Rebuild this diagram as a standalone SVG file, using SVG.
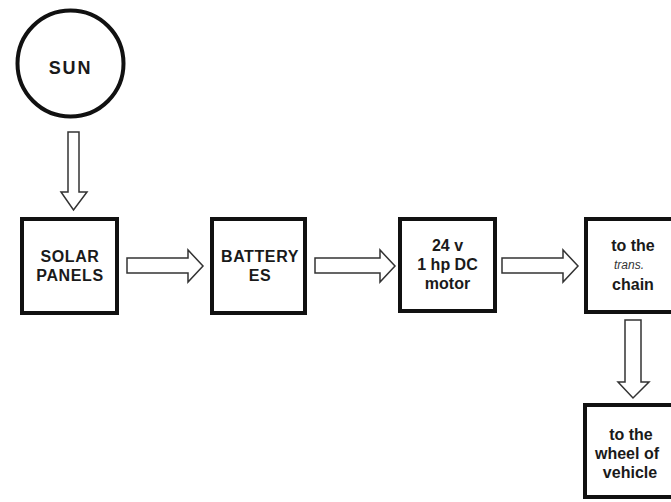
<svg xmlns="http://www.w3.org/2000/svg" width="671" height="502" viewBox="0 0 671 502">
<style>
.box{fill:#fff;stroke:#111;stroke-width:4}
.sun{fill:#fff;stroke:#111;stroke-width:4}
.arr{fill:#fff;stroke:#333;stroke-width:1.5;stroke-linejoin:miter}
.t{font-family:"Liberation Sans","DejaVu Sans",sans-serif;font-weight:bold;font-size:16px;fill:#1a1a1a;text-anchor:middle}
.c{letter-spacing:0.6px}
.it{font-family:"Liberation Sans","DejaVu Sans",sans-serif;font-style:italic;font-size:12px;fill:#333;text-anchor:middle}
</style>
<rect width="671" height="502" fill="#fff"/>
<g id="connectors">
<polygon class="arr" points="68,132 79,132 79,192 87,192 73.5,210 61,192 68,192"/>
<polygon class="arr" points="127,258 188,258 188,250 203,266 188,282 188,273 127,273"/>
<polygon class="arr" points="315,258 380,258 380,250 395,266 380,282 380,273 315,273"/>
<polygon class="arr" points="502,258 563,258 563,250 578,266 563,282 563,273 502,273"/>
<polygon class="arr" points="625,320 641,320 641,382 649,382 633,398 618,382 625,382"/>
</g>
<g id="sun">
<circle class="sun" cx="70.5" cy="63.5" r="53"/>
<text class="t" x="70.5" y="74" style="font-size:18px;letter-spacing:1.8px">SUN</text>
</g>
<g id="solar">
<rect class="box" x="22" y="219" width="95" height="94"/>
<text class="t c" x="70" y="262">SOLAR</text>
<text class="t c" x="70" y="281">PANELS</text>
</g>
<g id="battery">
<rect class="box" x="212" y="219" width="93" height="94"/>
<text class="t c" x="260" y="262">BATTERY</text>
<text class="t c" x="260" y="281">ES</text>
</g>
<g id="motor">
<rect class="box" x="400" y="219" width="95" height="92"/>
<text class="t" x="447.5" y="251">24 v</text>
<text class="t" x="447.5" y="270">1 hp DC</text>
<text class="t" x="447.5" y="289">motor</text>
</g>
<g id="chain">
<rect class="box" x="586" y="219" width="96" height="93"/>
<text class="t" x="633" y="251">to the</text>
<text class="it" x="629" y="269">trans.</text>
<text class="t" x="633" y="290">chain</text>
</g>
<g id="wheel">
<rect class="box" x="585" y="405" width="96" height="92"/>
<text class="t" x="631" y="440">to the</text>
<text class="t" x="627" y="459">wheel of</text>
<text class="t" x="630" y="478">vehicle</text>
</g>
</svg>
